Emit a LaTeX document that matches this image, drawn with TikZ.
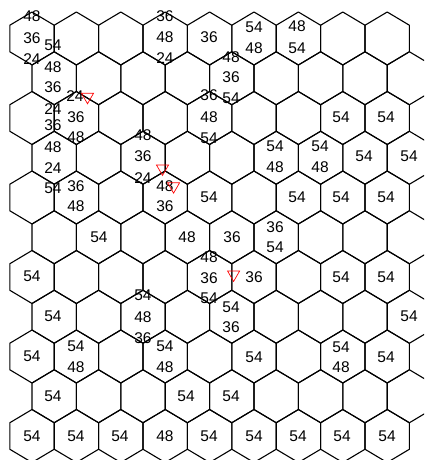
\documentclass[tikz,border=0pt]{standalone}
\usepackage{fontspec}
\setmainfont{Liberation Sans}
\usetikzlibrary{shapes.geometric}

\begin{document}
\begin{tikzpicture}[
    x=1pt, y=-1pt,
    cell/.style={line width=1.1pt, line join=round, black},
    num/.style={inner sep=0pt, font=\fontsize{15.5}{15.5}\selectfont},
    marker/.style={draw=red, regular polygon, regular polygon sides=3, shape border rotate=180, minimum size=13.9pt, inner sep=0pt, line width=0.7pt}
]
\fill[white] (0,0) rectangle (424,460);
\useasboundingbox (0,0) rectangle (424,460);

% hexagon grid
\begin{scope}
\clip (0,0) rectangle (424,460);
\foreach \r in {0,...,10} {
  \pgfmathsetmacro{\cy}{38.5+39.75*\r}
  \pgfmathsetmacro{\ox}{32+22.2*mod(\r,2)}
  \foreach \k in {0,...,8} {
    \pgfmathsetmacro{\cx}{\ox+44.4*\k}
    \draw[cell] (\cx,\cy-26.5) -- (\cx+22.2,\cy-13.25) -- (\cx+22.2,\cy+13.25)
      -- (\cx,\cy+26.5) -- (\cx-22.2,\cy+13.25) -- (\cx-22.2,\cy-13.25) -- cycle;
  }
}
\end{scope}

% values
\foreach \x/\y/\t [count=\i] in {
  32/16/48, 32/38/36, 32/59/24, 53/45/54, 53/67/48, 53/87/36, 75/96/24,
  53/109/24, 76/117/36, 53/125/36, 76/137/48, 53/147/48, 53/168/24,
  53/188/54, 76/186/36, 76/206/48,
  165/16/36, 165/37/48, 165/58/24, 209/37/36, 254/27/54, 254/48/48,
  297/26/48, 297/48/54, 231/57/48, 231/77/36, 209/95/36, 231/98/54,
  209/117/48, 209/138/54, 143/135/48, 143/156/36, 143/178/24,
  165/186/48, 165/206/36,
  341/117/54, 386/117/54, 275/146/54, 275/167/48, 320/146/54, 320/167/48,
  364/156/54, 409/156/54, 209/197/54, 297/197/54, 341/197/54, 386/197/54,
  99/237/54, 187/237/48, 232/237/36, 275/227/36, 275/247/54,
  32/276/54, 209/257/48, 209/278/36, 209/298/54, 254/277/36,
  341/277/54, 386/277/54,
  53/316/54, 143/295/54, 143/317/48, 143/338/36, 231/307/54, 231/327/36,
  409/316/54,
  32/356/54, 76/346/54, 76/367/48, 165/346/54, 165/367/48, 254/357/54,
  341/347/54, 341/367/48, 386/357/54,
  53/396/54, 186/396/54, 231/396/54,
  32/436/54, 76/436/54, 120/436/54, 165/436/48, 209/436/54, 254/436/54,
  298/436/54, 342/436/54, 387/436/54}
  \node[num] (v\i) at (\x,\y) {\t};

% markers
\node[marker] (m1) at (87.5,96.8) {};
\node[marker] (m2) at (162.5,168.5) {};
\node[marker] (m3) at (173.6,186.2) {};
\node[marker] (m4) at (233.6,274.5) {};
\end{tikzpicture}
\end{document}
